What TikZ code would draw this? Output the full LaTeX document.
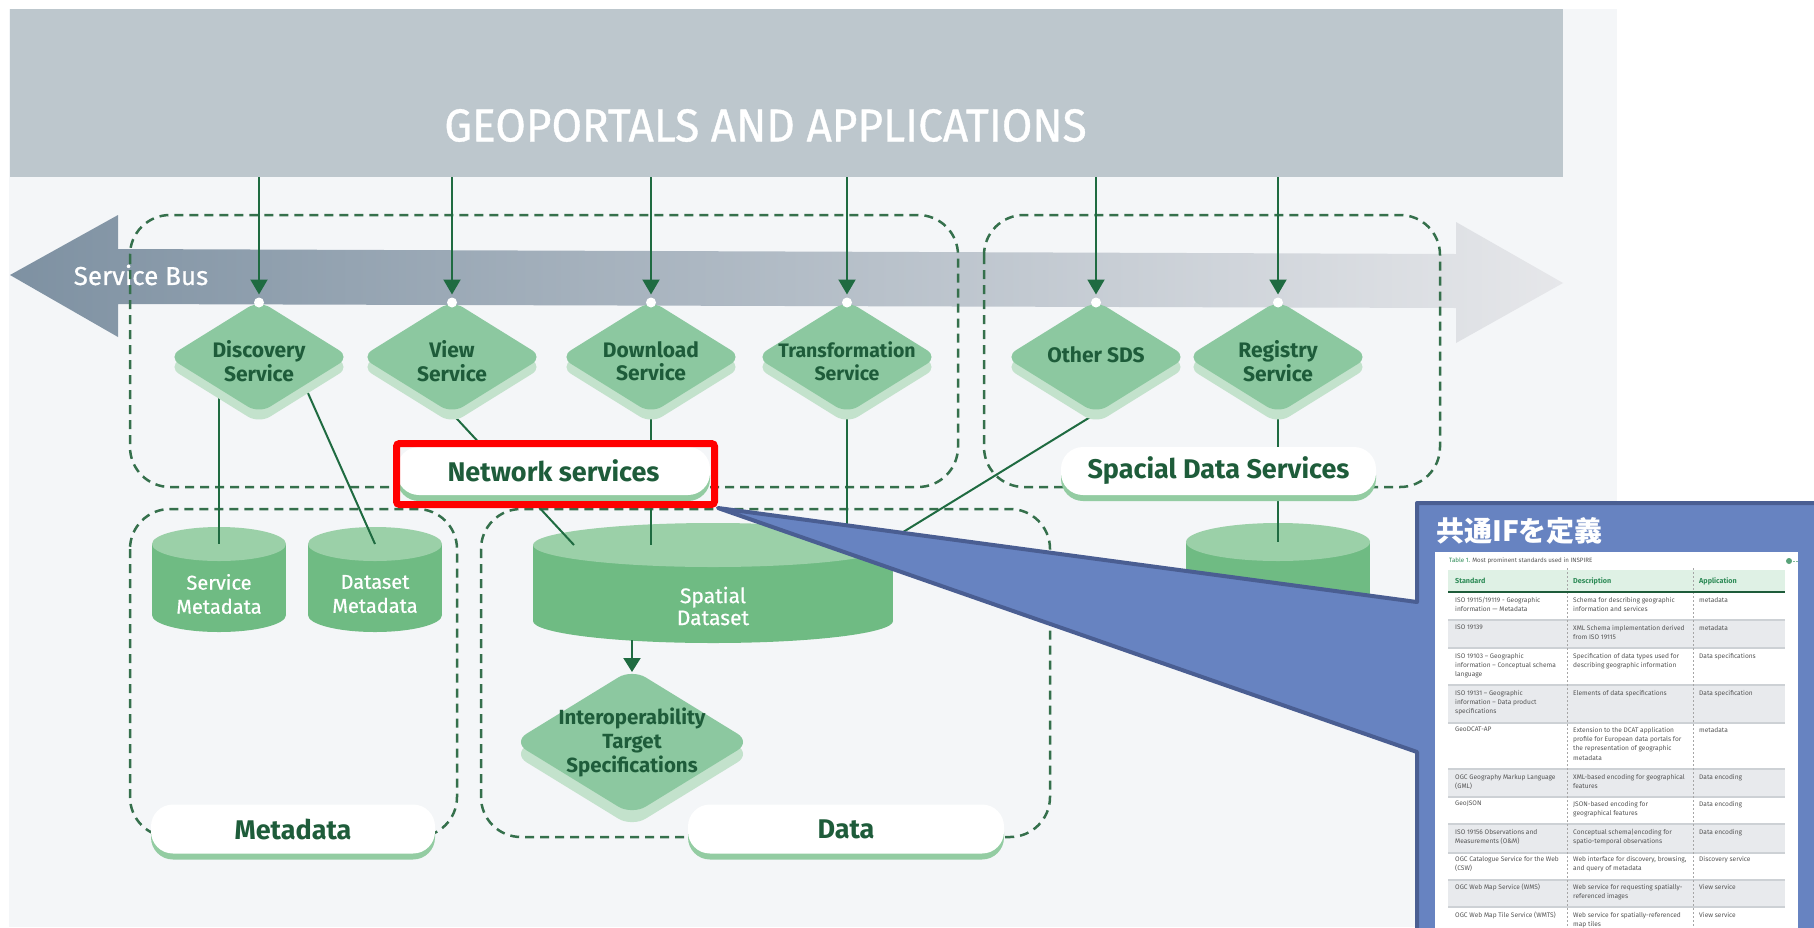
\documentclass[tikz,border=0pt]{standalone}
\usepackage{fontspec}
\usetikzlibrary{arrows.meta,shadows,shapes.geometric}
\newfontfamily\fira{Fira Sans}
\newfontfamily\firah[FakeStretch=0.96, FakeBold=0.8]{Fira Sans}
\newfontfamily\firam[FakeBold=0.6]{Fira Sans}
\newfontfamily\cjk{Noto Sans CJK JP}
\definecolor{bgc}{HTML}{F4F6F8}
\definecolor{hdrc}{HTML}{BDC7CD}
\definecolor{busl}{HTML}{7E91A2}
\definecolor{busr}{HTML}{E6E7EA}
\definecolor{dg}{HTML}{1E5C3A}
\definecolor{lg}{HTML}{1F6B41}
\definecolor{dashc}{HTML}{35704C}
\definecolor{dia}{HTML}{8CC8A0}
\definecolor{diash}{HTML}{C3E2CC}
\definecolor{cylb}{HTML}{6FBB83}
\definecolor{cylt}{HTML}{9BD0A8}
\definecolor{pillsh}{HTML}{93CCA2}
\definecolor{callf}{HTML}{6783C1}
\definecolor{calld}{HTML}{4A5E92}
\definecolor{tgray}{HTML}{E8EAED}
\definecolor{tsep}{HTML}{CDD1D5}
\definecolor{thead}{HTML}{DFF1E5}
\definecolor{tgreen}{HTML}{2E8B57}
\definecolor{ttext}{HTML}{555555}
\pgfdeclarelayer{bgl}
\pgfdeclarelayer{lines}
\pgfsetlayers{bgl,lines,main}
\newcommand\mycyl[5]{%
  \fill[cylb] (#1-#2,#3) rectangle (#1+#2,#4);
  \fill[cylb] (#1,#4) ellipse[x radius=#2, y radius=#5];
  \fill[cylt] (#1,#3) ellipse[x radius=#2, y radius=#5];}
\tikzset{
  svc/.style={diamond, fill=dia, minimum width=182pt, minimum height=113pt, inner sep=0pt, outer sep=0pt, rounded corners=13pt,
    drop shadow={shadow xshift=0pt, shadow yshift=-10pt, fill=diash, opacity=1}},
  bigsvc/.style={diamond, fill=dia, minimum width=238pt, minimum height=146pt, inner sep=0pt, outer sep=0pt, rounded corners=16pt,
    drop shadow={shadow xshift=0pt, shadow yshift=-12pt, fill=diash, opacity=1}},
  svctext/.style={font=\fira\bfseries\fontsize{21}{23.5}\selectfont, text=dg, align=center, inner sep=0pt},
  arr/.style={draw=lg, line width=2pt, -{Triangle[length=15pt,width=17pt]}},
  conn/.style={draw=lg, line width=2pt},
  dbox/.style={draw=dashc, line width=2.5pt, dash pattern=on 9pt off 6pt, rounded corners=40pt},
  pill/.style={fill=white, rounded corners=22pt, minimum height=48pt, inner sep=0pt,
    font=\fira\bfseries\fontsize{27}{30}\selectfont, text=dg,
    drop shadow={shadow xshift=0pt, shadow yshift=-6pt, fill=pillsh, opacity=1}},
  cyltext/.style={font=\firam\fontsize{20}{24}\selectfont, text=white, align=center, inner sep=0pt},
  tc/.style={font=\fira\fontsize{6.6}{9.3}\selectfont, text=ttext, align=left, anchor=north west, inner sep=0pt},
  th/.style={font=\fira\bfseries\fontsize{7.2}{9}\selectfont, text=tgreen, anchor=west, inner sep=0pt},
}
\begin{document}
\begin{tikzpicture}[x=1pt,y=-1pt]
\useasboundingbox (0,0) rectangle (1814,927);
\begin{pgfonlayer}{bgl}
  \fill[white] (0,0) rectangle (1814,927);
  \fill[bgc] (9,9) rectangle (1617,927);
  \node[fill=hdrc, minimum width=1553pt, minimum height=168pt, inner sep=0pt, outer sep=0pt, anchor=north west] (hdr) at (10,9) {};
  \node[font=\firah\fontsize{46}{48}\selectfont, text=white, inner sep=0pt] (title) at (765.5,125.5) {GEOPORTALS AND APPLICATIONS};
  % service bus
  \shade[left color=busl, right color=busr]
    (10,275) -- (118,215) -- (118,249) -- (1456,254) -- (1456,222) -- (1563,283)
    -- (1456,343) -- (1456,308) -- (118,304) -- (118,337) -- cycle;
  \node[font=\firam\fontsize{26}{28}\selectfont, text=white, inner sep=0pt] (sbus) at (141,275) {Service Bus};
  % containers
  \draw[dbox] (130,215) rectangle (958,487);
  \draw[dbox] (984,215) rectangle (1440,487);
  \draw[dbox] (130,509) rectangle (457,837);
  \draw[dbox] (481,509) rectangle (1050,837);
  % cylinders
  \mycyl{219}{67}{544}{615}{17}
  \mycyl{375}{67}{544}{615}{17}
  \mycyl{713}{180}{545}{621}{22}
  \mycyl{1278}{92}{542}{621}{19}
\end{pgfonlayer}
\coordinate (smeta) at (219,544);
\coordinate (dmeta) at (375,544);
\coordinate (sdA) at (574,545);
\coordinate (sdtop) at (713,545);
\coordinate (sdB) at (882,545);
\coordinate (sdbot) at (713,640);
\coordinate (regtop) at (1278,542);
\node[cyltext] (smt) at (219,594) {Service\\Metadata};
\node[cyltext] (dmt) at (375,594) {Dataset\\Metadata};
\node[cyltext, font=\firam\fontsize{21}{22}\selectfont] (sdt) at (713,606) {Spatial\\Dataset};
% service diamonds
\node[svc] (disc) at (259,357) {};
\node[svc] (view) at (452,357) {};
\node[svc] (down) at (651,357) {};
\node[svc] (trans) at (847,357) {};
\node[svc] (other) at (1096,357) {};
\node[svc] (reg) at (1278,357) {};
\node[bigsvc] (interop) at (632,742) {};
\node[svctext, yshift=-4pt] (disct) at (disc) {Discovery\\Service};
\node[svctext, yshift=-4pt] (viewt) at (view) {View\\Service};
\node[svctext, yshift=-4pt] (downt) at (down) {Download\\Service};
\node[svctext, yshift=-4pt, font=\fira\bfseries\fontsize{19.5}{23.5}\selectfont] (transt) at (trans) {Transformation\\Service};
\node[svctext, yshift=2pt] (othert) at (other) {Other SDS};
\node[svctext, yshift=-4pt] (regt) at (reg) {Registry\\Service};
\node[svctext, font=\fira\bfseries\fontsize{20.5}{24}\selectfont] (interopt) at (interop) {Interoperability\\Target\\Specifications};
% connectors
\begin{pgfonlayer}{lines}
  \draw[conn] (smeta |- disc.south west) -- (smeta);
  \draw[conn] (disc.south east) -- (dmeta);
  \draw[conn] (view.south) -- (sdA);
  \draw[conn] (down.south) -- (down |- sdtop);
  \draw[conn] (trans.south) -- (trans |- sdtop);
  \draw[conn] (other.south) -- (sdB);
  \draw[conn] (reg.south) -- (regtop);
  \draw[arr, -{Triangle[length=14pt,width=17pt]}] (interop |- sdbot) -- ([yshift=-3pt]interop.north);
\end{pgfonlayer}
% arrows from portal band
\foreach \n in {disc,view,down,trans,other,reg}{
  \draw[arr, shorten >=8pt] (\n |- hdr.south) -- ([yshift=-2pt]\n.north);
  \fill[white] ([yshift=-2pt]\n.north) circle[radius=5];
}
% labels
\node[pill, minimum width=313pt] (ns) at (553.5,471) {Network services};
\node[pill, minimum width=315pt] (sds) at (1218.5,471) {Spacial Data Services};
\node[pill, minimum width=284pt, minimum height=49pt] (md) at (293,829) {Metadata};
\node[pill, minimum width=316pt, minimum height=49pt] (dt) at (846,829) {Data};
% highlight
\node[draw=red, line width=7pt, inner sep=0pt, minimum width=318pt, minimum height=61pt, rounded corners=3pt] (hl) at (555.5,474) {};
% callout
\filldraw[fill=callf, draw=calld, line width=4pt, line join=round]
  (hl.south east) -- (1417,602) -- (1417,503) -- (1830,503) -- (1830,945) -- (1417,945) -- (1417,752) -- cycle;
\node[font=\cjk\bfseries\fontsize{28}{30}\selectfont, text=white, anchor=west, inner sep=0pt] (ctitle) at (1436,531) {共通IFを定義};
% table panel
\fill[white] (1435,552) rectangle (1798,940);
\node[anchor=west, inner sep=0pt, font=\fira\fontsize{6.2}{7}\selectfont, text=ttext] (tcap) at (1449,561) {\textcolor{tgreen}{Table 1.} Most prominent standards used in INSPIRE};
\fill[tgreen!80] (1789,561) circle[radius=3];
\draw[tgreen!60, line width=0.8pt, dash pattern=on 1.5pt off 1.5pt] (1793,561) -- (1798,561);
\fill[thead] (1448,570) rectangle (1785,591);
\foreach \a/\b in {620/647,685/722,769/796,824/852,880/907}{
  \fill[tgray] (1448,\a) rectangle (1785,\b);
}
\foreach \yy in {620,648,685,723,769,797,824,853,880,907}{
  \draw[tsep, line width=1.5pt] (1448,\yy) -- (1785,\yy);
}
\draw[gray!70, line width=0.7pt, dash pattern=on 2pt off 2pt] (1567,568) -- (1567,930);
\draw[gray!70, line width=0.7pt, dash pattern=on 2pt off 2pt] (1693,568) -- (1693,930);
\draw[dg, line width=2.5pt] (1448,592) -- (1785,592);
\node[th] (th1) at (1455,581) {Standard};
\node[th] (th2) at (1573,581) {Description};
\node[th] (th3) at (1699,581) {Application};
% rows
\node[tc] (r1a) at (1455,597) {ISO 19115/19119 - Geographic\\information — Metadata};
\node[tc] (r1b) at (1573,597) {Schema for describing geographic\\information and services};
\node[tc] (r1c) at (1699,597) {metadata};
\node[tc] (r2a) at (1455,625) {ISO 19139};
\node[tc] (r2b) at (1573,625) {XML Schema implementation derived\\from ISO 19115};
\node[tc] (r2c) at (1699,625) {metadata};
\node[tc] (r3a) at (1455,653) {ISO 19103 – Geographic\\information – Conceptual schema\\language};
\node[tc] (r3b) at (1573,653) {Specification of data types used for\\describing geographic information};
\node[tc] (r3c) at (1699,653) {Data specifications};
\node[tc] (r4a) at (1455,690) {ISO 19131 – Geographic\\information – Data product\\specifications};
\node[tc] (r4b) at (1573,690) {Elements of data specifications};
\node[tc] (r4c) at (1699,690) {Data specification};
\node[tc] (r5a) at (1455,727) {GeoDCAT-AP};
\node[tc] (r5b) at (1573,727) {Extension to the DCAT application\\profile for European data portals for\\the representation of geographic\\metadata};
\node[tc] (r5c) at (1699,727) {metadata};
\node[tc] (r6a) at (1455,774) {OGC Geography Markup Language\\(GML)};
\node[tc] (r6b) at (1573,774) {XML-based encoding for geographical\\features};
\node[tc] (r6c) at (1699,774) {Data encoding};
\node[tc] (r7a) at (1455,801) {GeoJSON};
\node[tc] (r7b) at (1573,801) {JSON-based encoding for\\geographical features};
\node[tc] (r7c) at (1699,801) {Data encoding};
\node[tc] (r8a) at (1455,829) {ISO 19156 Observations and\\Measurements (O\&M)};
\node[tc] (r8b) at (1573,829) {Conceptual schema|encoding for\\spatio-temporal observations};
\node[tc] (r8c) at (1699,829) {Data encoding};
\node[tc] (r9a) at (1455,856) {OGC Catalogue Service for the Web\\(CSW)};
\node[tc] (r9b) at (1573,856) {Web interface for discovery, browsing,\\and query of metadata};
\node[tc] (r9c) at (1699,856) {Discovery service};
\node[tc] (r10a) at (1455,884) {OGC Web Map Service (WMS)};
\node[tc] (r10b) at (1573,884) {Web service for requesting spatially-\\referenced images};
\node[tc] (r10c) at (1699,884) {View service};
\node[tc] (r11a) at (1455,912) {OGC Web Map Tile Service (WMTS)};
\node[tc] (r11b) at (1573,912) {Web service for spatially-referenced\\map tiles};
\node[tc] (r11c) at (1699,912) {View service};
\end{tikzpicture}
\end{document}
